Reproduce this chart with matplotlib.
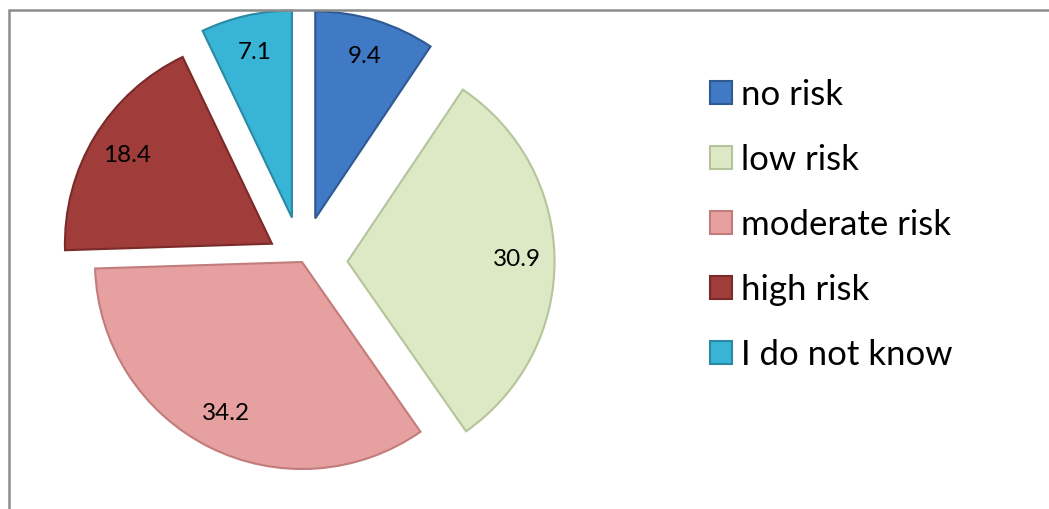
import matplotlib
matplotlib.use("Agg")
import matplotlib.pyplot as plt
from matplotlib.patches import Rectangle

# data
categories = ["no risk", "low risk", "moderate risk", "high risk", "I do not know"]
values = [9.4, 30.9, 34.2, 18.4, 7.1]
colors = ["#4079C4", "#DDE9C4", "#E6A09F", "#A03C3A", "#38B4D6"]
edge_colors = ["#2E5A94", "#B5C49A", "#C27C7B", "#7A2B29", "#2A8AA4"]
explode = [0.22, 0.22, 0.0, 0.17, 0.22]

plt.rcParams['font.family'] = ['Lato', 'DejaVu Sans']

W, H = 1049, 509
fig = plt.figure(figsize=(W / 100, H / 100), dpi=100)
ax = fig.add_axes([0, 0, 1, 1])

# pie centre and radius in pixels
cx, cy, R = 302, 262, 207

wedges, texts, autotexts = ax.pie(
    values, explode=explode, colors=colors, startangle=90, counterclock=False,
    autopct='%.1f', pctdistance=0.82, radius=1,
    wedgeprops=dict(linewidth=1.5),
    textprops=dict(fontsize=17.5, color='black'),
    shadow={'ox': 0.5, 'oy': -3, 'shade': 0.2, 'alpha': 0.18},
    center=(0, 0), frame=False)
for w, ec in zip(wedges, edge_colors):
    w.set_edgecolor(ec)

ax.set_xlim(-cx / R, (W - cx) / R)
ax.set_ylim(-(H - cy) / R, cy / R)
ax.set_aspect('equal')
ax.axis('off')

# outer chart frame
fig.patches.append(Rectangle((9 / W, -0.1), 1.2, (H - 10) / H + 0.1,
                             transform=fig.transFigure, fill=False,
                             edgecolor='#8C8C8C', linewidth=1.8))

leg = fig.legend(wedges, categories, loc='upper left',
                 bbox_to_anchor=(710 / W, 1 - 79 / H), frameon=False,
                 fontsize=25, handlelength=0.63, handleheight=0.63,
                 handletextpad=0.26, labelspacing=0.95, borderpad=0,
                 borderaxespad=0)

fig.savefig("out.png", dpi=100)
